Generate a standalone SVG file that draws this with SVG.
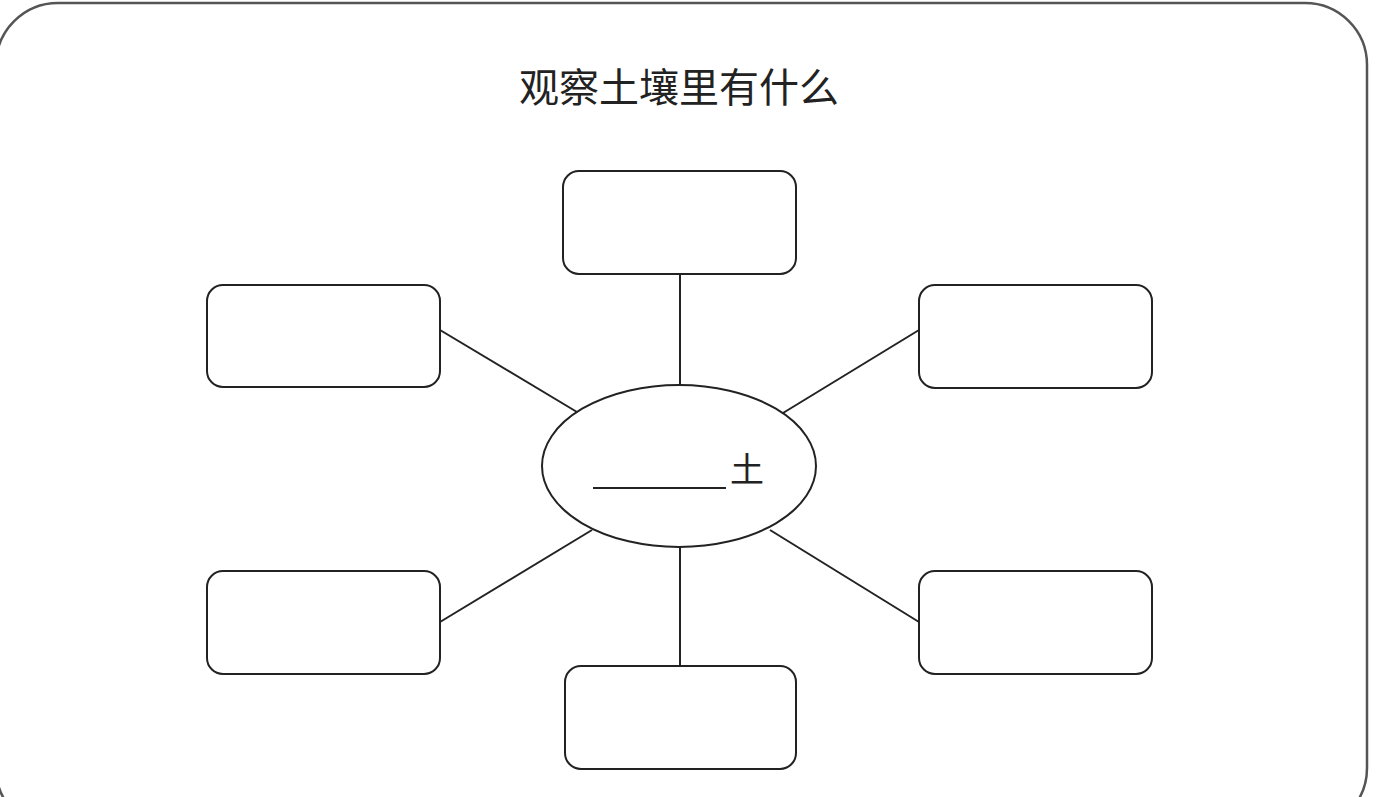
<svg xmlns="http://www.w3.org/2000/svg" width="1378" height="797" viewBox="0 0 1378 797">
<style>
.box{fill:#fff;stroke:#222;stroke-width:2}
.ln{stroke:#222;stroke-width:2;fill:none}
.t{font-family:"Noto Sans CJK SC","Noto Sans",sans-serif;fill:#222}
</style>
<rect width="1378" height="797" fill="#fff"/>
<rect id="frame" x="-4" y="3" width="1371" height="827" rx="62" ry="62" fill="none" stroke="#555" stroke-width="2.5"/>
<text id="title" class="t" x="679" y="102" font-size="40" text-anchor="middle">观察土壤里有什么</text>
<g id="connectors">
<line class="ln" x1="680" y1="274" x2="680" y2="386"/>
<line class="ln" x1="680" y1="546" x2="680" y2="666"/>
<line class="ln" x1="440" y1="330" x2="577" y2="412"/>
<line class="ln" x1="919" y1="330" x2="783" y2="413"/>
<line class="ln" x1="440" y1="622" x2="592" y2="530"/>
<line class="ln" x1="919" y1="622" x2="770" y2="530"/>
</g>
<g id="center">
<ellipse class="box" cx="679" cy="466" rx="137" ry="81" stroke-width="3"/>
<line x1="593" y1="488" x2="726" y2="488" stroke="#222" stroke-width="2"/>
<text class="t" x="730" y="482" font-size="34">土</text>
</g>
<g id="box-top"><rect class="box" x="563" y="171" width="233" height="103" rx="16"/></g>
<g id="box-upper-left"><rect class="box" x="207" y="285" width="233" height="102" rx="16"/></g>
<g id="box-upper-right"><rect class="box" x="919" y="285" width="233" height="103" rx="16"/></g>
<g id="box-lower-left"><rect class="box" x="207" y="571" width="233" height="103" rx="16"/></g>
<g id="box-lower-right"><rect class="box" x="919" y="571" width="233" height="103" rx="16"/></g>
<g id="box-bottom"><rect class="box" x="565" y="666" width="231" height="103" rx="16"/></g>
</svg>
